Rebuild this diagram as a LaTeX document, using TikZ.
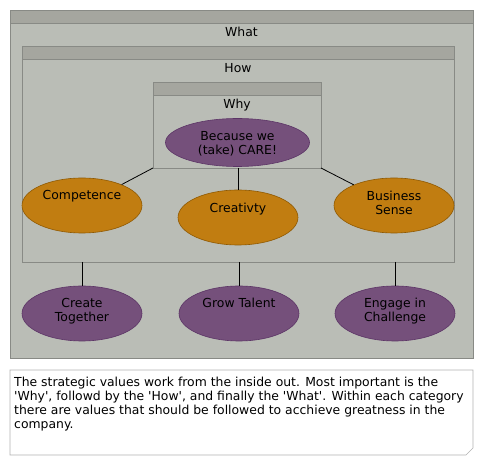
\documentclass[tikz,border=0pt]{standalone}
\usepackage{fontspec}
\setmainfont{DejaVu Sans}[Ligatures=TeXOff]
\usetikzlibrary{shapes.geometric}
\definecolor{alu}{HTML}{BABDB6}
\definecolor{aluhead}{HTML}{A5A69F}
\definecolor{aluline}{HTML}{888A85}
\definecolor{plum}{HTML}{75507B}
\definecolor{plumdark}{HTML}{5C3566}
\definecolor{orng}{HTML}{C17D11}
\definecolor{orngdark}{HTML}{8F5902}
\begin{document}
\begin{tikzpicture}[x=1pt,y=-1pt,
  every node/.style={font=\fontsize{12.4}{14}\selectfont, text=black},
  grp/.style={fill=alu, draw=aluline, line width=0.8pt},
  grphead/.style={fill=aluhead, draw=aluline, line width=0.8pt},
  val/.style={ellipse, minimum width=120pt, minimum height=55pt, inner sep=0pt, line width=0.6pt},
  pv/.style={val, fill=plum, draw=plumdark},
  ov/.style={val, fill=orng, draw=orngdark},
  txt/.style={anchor=base, align=center, inner sep=0pt},
  conn/.style={draw=black, line width=0.8pt}]
\useasboundingbox (0,0) rectangle (483,465);
% What
\draw[grp] (10,10) rectangle (473,358);
\draw[grphead] (10,10) rectangle (473,23);
\node[txt] (what) at (241.5,36.5) {What};
% How
\draw[grp] (22,46) rectangle (454,262);
\draw[grphead] (22,46) rectangle (454,59);
\node[txt] (how) at (238,72.5) {How};
% Why
\draw[grp] (153,82) rectangle (321,168);
\draw[grphead] (153,82) rectangle (321,95);
\node[txt] (why) at (237,108.5) {Why};
\coordinate (whyBL) at (153,168);
\coordinate (whyB) at (238,168);
\coordinate (whyBR) at (321,168);
\coordinate (howB1) at (82,262);
\coordinate (howB2) at (239,262);
\coordinate (howB3) at (395,262);
% nodes
\node[pv, minimum width=144pt, minimum height=48pt] (care) at (237.5,142.5) {};
\node[txt] (caret) at (237.5,154.5) {Because we\\(take) CARE!};
\node[ov] (comp) at (82,205.5) {};
\node[txt] (compt) at (82,199.5) {Competence};
\node[ov] (crea) at (238,217.5) {};
\node[txt] (creat) at (238,212.5) {Creativty};
\node[ov] (bus) at (394,205.5) {};
\node[txt] (bust) at (394,214.5) {Business\\Sense};
\node[pv] (create) at (82,313.5) {};
\node[txt] (createt) at (82,321.5) {Create\\Together};
\node[pv] (grow) at (239,313.5) {};
\node[txt] (growt) at (239,307.5) {Grow Talent};
\node[pv] (engage) at (395,313.5) {};
\node[txt] (engaget) at (395,321.5) {Engage in\\Challenge};
% connectors
\draw[conn] (whyBL) -- (comp);
\draw[conn] (whyB) -- (crea);
\draw[conn] (whyBR) -- (bus);
\draw[conn] (howB1) -- (create);
\draw[conn] (howB2) -- (grow);
\draw[conn] (howB3) -- (engage);
% note
\draw[draw=black!30, fill=white, line width=0.6pt] (10,370) -- (473,370) -- (473,448) -- (466,455) -- (10,455) -- cycle;
\node[anchor=base west, align=left, inner sep=0pt] (note) at (14,428.5) {The strategic values work from the inside out. Most important is the\\'Why', followd by the 'How', and finally the 'What'. Within each category\\there are values that should be followed to acchieve greatness in the\\company.};
\end{tikzpicture}
\end{document}
